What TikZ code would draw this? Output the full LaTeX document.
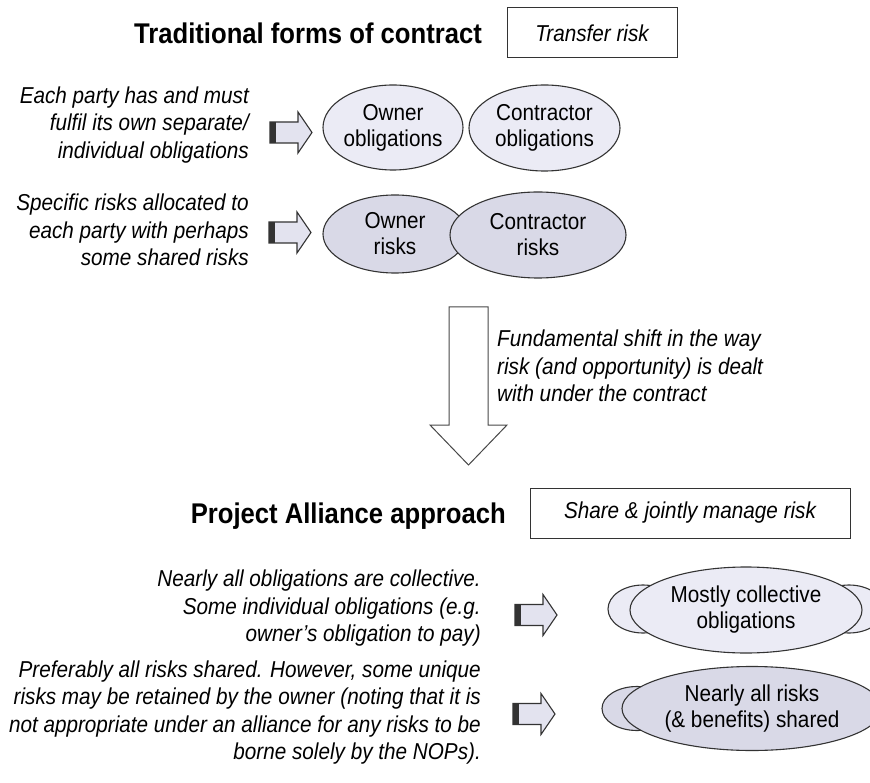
\documentclass[tikz,border=0pt]{standalone}
\usepackage{fontspec}
\setmainfont{Liberation Sans}
\newfontfamily\narrowfont{Liberation Sans}[FakeStretch=0.9]
\usetikzlibrary{shapes.geometric}
\definecolor{lightfill}{HTML}{EBEBF5}
\definecolor{darkfill}{HTML}{D9D9E7}
\definecolor{arrowfill}{HTML}{E3E3EF}
\definecolor{edgecol}{HTML}{333333}
\tikzset{
  titletext/.style={font=\narrowfont\bfseries\fontsize{28.5}{32}\selectfont, inner sep=0pt},
  desctext/.style={font=\narrowfont\itshape\fontsize{23}{27.5}\selectfont, inner sep=0pt},
  boxnode/.style={draw=edgecol, line width=1pt, font=\narrowfont\itshape\fontsize{23}{27}\selectfont, inner sep=0pt},
  ell/.style={ellipse, draw=edgecol, line width=1.1pt, inner sep=0pt, align=center, font=\narrowfont\fontsize{23}{26}\selectfont},
  blockarr/.pic={
    \draw[edgecol, line width=1.1pt, fill=arrowfill, line join=miter]
      (0,-10.5) -- (28,-10.5) -- (28,-20.5) -- (42,0) -- (28,20.5) -- (28,10.5) -- (0,10.5) -- cycle;
    \fill[edgecol] (0,-10.5) rectangle (6,10.5);
  }
}
\begin{document}
\begin{tikzpicture}[x=1pt,y=-1pt]
\useasboundingbox (0,0) rectangle (870,783);

% --- top section ---
\node[titletext] (title1) at (308,33) {Traditional forms of contract};
\node[boxnode, minimum width=170pt, minimum height=50pt] (box1) at (592,33) {Transfer risk};

\node[desctext, anchor=east, align=right] (txt1) at (249,125)
  {Each party has and must\\fulfil its own separate/\\individual obligations};
\node[desctext, anchor=east, align=right] (txt2) at (249,230)
  {Specific risks allocated to\\each party with perhaps\\some shared risks};

\pic (arrA) at (270,132.5) {blockarr};
\pic (arrB) at (269,232.5) {blockarr};

\node[ell, fill=lightfill, minimum width=140pt, minimum height=85pt] (ownobl) at (393,127.5) {Owner\\obligations};
\node[ell, fill=lightfill, minimum width=151pt, minimum height=86pt] (conobl) at (544.5,128) {Contractor\\obligations};

\node[ell, fill=darkfill, minimum width=144pt, minimum height=78pt] (ownrisk) at (395,234) {Owner\\risks};
\node[ell, fill=darkfill, minimum width=176pt, minimum height=86pt] (conrisk) at (538,235) {Contractor\\risks};

% --- shift arrow ---
\draw[draw=edgecol!90, line width=1pt, fill=white, line join=miter]
  (449,307) -- (488,307) -- (488,425) -- (507,425) -- (468.5,465) -- (430,425) -- (449,425) -- cycle;
\node[desctext, anchor=west, align=left] (shift) at (497,366)
  {Fundamental shift in the way\\risk (and opportunity) is dealt\\with under the contract};

% --- bottom section ---
\node[titletext, anchor=base east] (title2) at (506,523) {Project Alliance approach};
\node[boxnode, minimum width=320pt, minimum height=50pt] (box2) at (690,513) {Share \& jointly manage risk};

\node[desctext, anchor=east, align=right] (txt3) at (481,608.5)
  {Nearly all obligations are collective.\\Some individual obligations (e.g.\\owner’s obligation to pay)};
\node[desctext, anchor=east, align=right] (txt4) at (481,712.5)
  {Preferably all risks shared. However, some unique\\risks may be retained by the owner (noting that it is\\not appropriate under an alliance for any risks to be\\borne solely by the NOPs).};

\pic (arrC) at (515,615) {blockarr};
\pic (arrD) at (513,714) {blockarr};

\node[ell, fill=lightfill, minimum width=70pt, minimum height=48pt] (collL) at (643,609) {};
\node[ell, fill=lightfill, minimum width=70pt, minimum height=48pt] (collR) at (849,609) {};
\node[ell, fill=lightfill, minimum width=232pt, minimum height=86pt] (coll) at (746,610) {Mostly collective\\obligations};

\node[ell, fill=darkfill, minimum width=70pt, minimum height=44pt] (shareL) at (637,708.5) {};
\node[ell, fill=darkfill, minimum width=260pt, minimum height=84pt] (share) at (752,708.5) {Nearly all risks\\(\& benefits) shared};
\end{tikzpicture}
\end{document}
